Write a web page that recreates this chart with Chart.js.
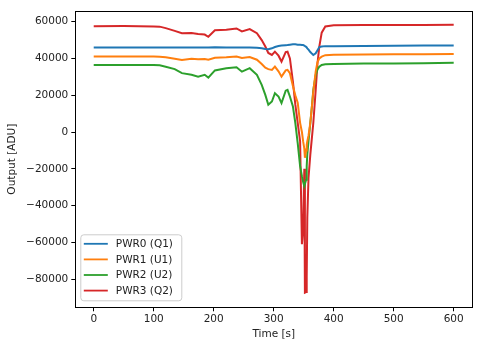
<!DOCTYPE html>
<html>
<head>
<meta charset="utf-8">
<script src="https://cdn.jsdelivr.net/npm/chart.js@4"></script>
<style>
  html, body { margin: 0; padding: 0; background: #fff; }
  #wrap { width: 483px; height: 347px; }
</style>
</head>
<body>
<div id="wrap"><canvas id="chart" width="483" height="347"></canvas></div>
<script>
// time samples [s] shared by all four traces
const times = [0, 50, 100, 110, 120, 135, 147, 163, 174, 185, 191, 202, 221, 238, 247, 260, 272, 280, 286, 291, 297, 302, 308, 313, 320, 323, 327, 332, 336, 340, 344, 347, 349, 351, 352, 354, 355, 356, 358, 361, 364, 366, 370, 373, 376, 380, 386, 400, 450, 500, 550, 600];

const pwr0 = [46000, 46000, 46000, 46000, 46000, 46000, 45900, 46000, 46000, 46000, 46000, 46100, 46000, 46000, 45900, 46000, 45800, 45500, 45100, 45000, 45500, 46200, 46800, 47000, 47200, 47300, 47500, 47700, 47700, 47500, 47400, 47300, 47300, 47000, 46800, 46300, 46000, 45500, 44800, 43500, 42500, 41900, 42800, 44500, 46200, 46500, 46700, 46700, 46800, 46900, 47000, 47100];
const pwr1 = [41000, 41000, 41000, 40900, 40600, 39800, 39200, 39800, 39600, 39700, 39300, 40400, 40600, 41000, 40200, 40800, 39300, 37000, 35000, 34200, 33800, 35600, 33000, 30100, 33500, 33800, 32000, 25000, 20000, 16000, 5000, 0, -5000, -9000, -14000, -10000, -7000, -5000, -2000, 5000, 15000, 22000, 33000, 38000, 40000, 41000, 41800, 42000, 42200, 42300, 42300, 42400];
const pwr2 = [36500, 36500, 36500, 36300, 35500, 34200, 32000, 31100, 30100, 31100, 29600, 33500, 34700, 35200, 32800, 34700, 31100, 25600, 20200, 14800, 16600, 21100, 19300, 15700, 22500, 22900, 19300, 13900, 5000, -6000, -18600, -24000, -27000, -29500, -29500, -26000, -18600, -12000, -5000, 4900, 15000, 22900, 31000, 34000, 35500, 36500, 36800, 37000, 37200, 37300, 37400, 37700];
const pwr3 = [57500, 57600, 57400, 57300, 56500, 55000, 53700, 53800, 53300, 53000, 51800, 55300, 55600, 56300, 54700, 56000, 53700, 50000, 46500, 43000, 41900, 43700, 41500, 38300, 43500, 43700, 40000, 27400, 15000, 5000, -5000, -61000, -53000, -20000, -87300, -87000, -79000, -46500, -25000, -12300, -2000, 4900, 22900, 37400, 46400, 54000, 57400, 58100, 58200, 58200, 58200, 58300];

const seriesLabels = ["PWR0 (Q1)", "PWR1 (U1)", "PWR2 (U2)", "PWR3 (Q2)"];
const seriesColors = ["#1f77b4", "#ff7f0e", "#2ca02c", "#d62728"];

const xTicks = [0, 100, 200, 300, 400, 500, 600];
const yTicks = [-80000, -60000, -40000, -20000, 0, 20000, 40000, 60000];

const FONT = "'DejaVu Sans', sans-serif";
const minus = (v) => String(v).replace("-", "\u2212");

const allSeries = [pwr0, pwr1, pwr2, pwr3];

// matplotlib-like frame and in-axes legend
const framePlugin = {
  id: "frame",
  afterDatasetsDraw(chart) {
    const { ctx, chartArea: a } = chart;
    ctx.save();
    ctx.strokeStyle = "#000";
    ctx.lineWidth = 1;
    ctx.strokeRect(Math.round(a.left) + 0.5, Math.round(a.top) + 0.5,
      Math.round(a.right - a.left), Math.round(a.bottom - a.top));

    // legend, lower left
    const bx = a.left + 5.5, by = a.bottom - 72.5, bw = 101, bh = 66;
    ctx.beginPath();
    ctx.roundRect(bx, by, bw, bh, 3);
    ctx.fillStyle = "rgba(255,255,255,0.8)";
    ctx.fill();
    ctx.strokeStyle = "#cccccc";
    ctx.stroke();
    ctx.font = "10.5px " + FONT;
    ctx.textBaseline = "middle";
    ctx.textAlign = "left";
    seriesLabels.forEach((lab, i) => {
      const y = by + 9 + i * 15.6;
      ctx.beginPath();
      ctx.moveTo(bx + 3, y);
      ctx.lineTo(bx + 27, y);
      ctx.strokeStyle = seriesColors[i];
      ctx.lineWidth = 1.8;
      ctx.stroke();
      ctx.fillStyle = "#222";
      ctx.fillText(lab, bx + 35, y + 0.5);
    });
    ctx.restore();
  },
};

const ctx = document.getElementById("chart").getContext("2d");
new Chart(ctx, {
  type: "line",
  data: {
    datasets: allSeries.map((vals, i) => ({
      label: seriesLabels[i],
      data: vals.map((v, j) => ({ x: times[j], y: v })),
      borderColor: seriesColors[i],
      borderWidth: 2,
      pointRadius: 0,
      tension: 0,
      fill: false,
    })),
  },
  options: {
    responsive: false,
    animation: false,
    layout: { padding: { top: 11, right: 10.7, left: 0, bottom: 0 } },
    plugins: { legend: { display: false }, tooltip: { enabled: false } },
    scales: {
      x: {
        type: "linear",
        min: -30.7,
        max: 631,
        afterBuildTicks: (axis) => { axis.ticks = xTicks.map((v) => ({ value: v })); },
        afterFit: (axis) => { axis.height = 39.7; },
        ticks: { color: "#222", font: { family: FONT, size: 10.5 }, padding: 2, maxRotation: 0, autoSkip: false },
        grid: { drawOnChartArea: false, drawTicks: true, tickLength: 4, color: "#000" },
        border: { display: false },
        title: { display: true, text: "Time [s]", color: "#222", font: { family: FONT, size: 10.5 }, padding: { top: 0, bottom: 6 } },
      },
      y: {
        type: "linear",
        min: -95300,
        max: 65800,
        afterBuildTicks: (axis) => { axis.ticks = yTicks.map((v) => ({ value: v })); },
        afterFit: (axis) => { axis.width = 75.3; },
        ticks: { color: "#222", font: { family: FONT, size: 10.5 }, padding: 3, callback: (v) => minus(v), autoSkip: false },
        grid: { drawOnChartArea: false, drawTicks: true, tickLength: 4, color: "#000" },
        border: { display: false },
        title: { display: true, text: "Output [ADU]", color: "#222", font: { family: FONT, size: 10.5 }, padding: { top: 6, bottom: 0 } },
      },
    },
  },
  plugins: [framePlugin],
});
</script>
</body>
</html>
